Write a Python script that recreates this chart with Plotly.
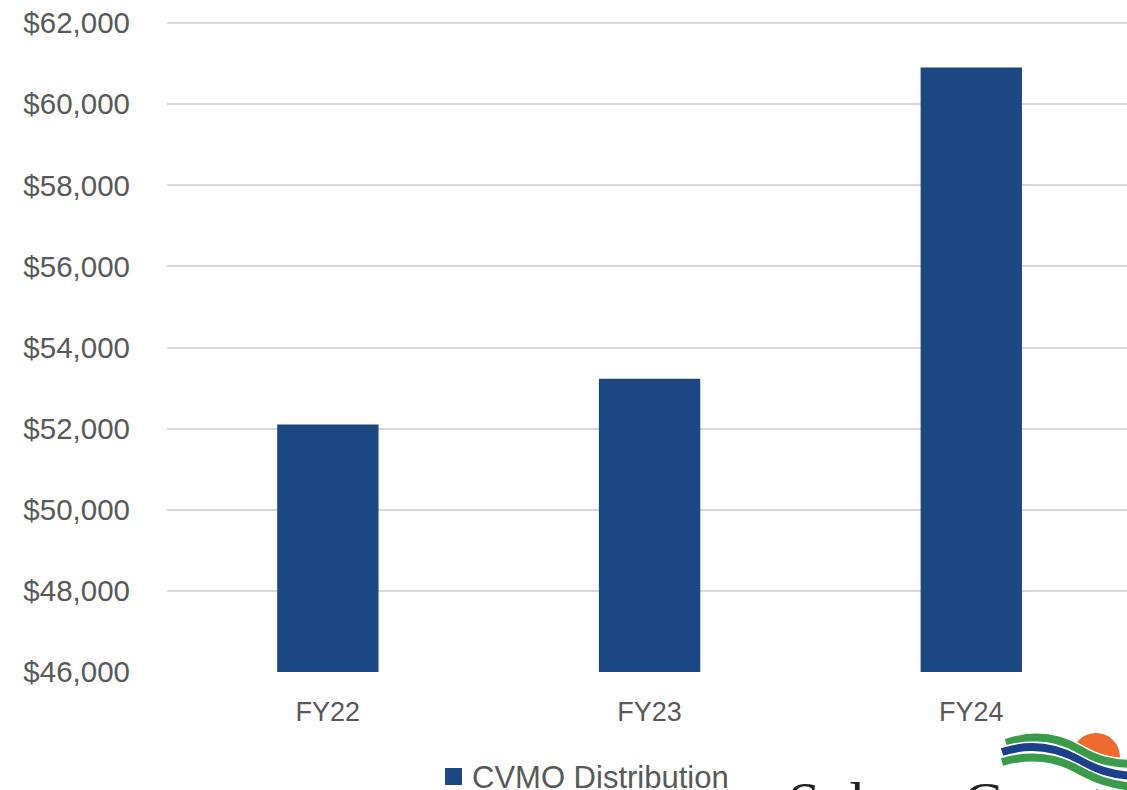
import plotly.graph_objects as go

categories = ["FY22", "FY23", "FY24"]
values = [52100, 53230, 60900]
series_name = "CVMO Distribution"

W, H = 1127, 790
# plot area: y=62000 at 23px, y=46000 at 672px from the top
L, R, T, B = 167, 0, 20, 118
PW, PH = W - L - R, H - T - B
Y_RANGE = [46000, 62000 + 3 * 16000 / 649]

def px2paper(x, y):
    return ((x - L) / PW, (H - B - y) / PH)

def path_from(points):
    parts = []
    for seg in points:
        coords = " ".join("%.5f,%.5f" % px2paper(*p) for p in seg[1:])
        parts.append(seg[0] + " " + coords)
    return " ".join(parts)

BAR_COLOR = "#1B4882"
TEXT_COLOR = "#595959"

fig = go.Figure()
fig.add_trace(go.Bar(
    x=categories, y=values, name=series_name,
    marker=dict(color=BAR_COLOR, line=dict(width=0)),
    width=0.315, showlegend=False,
))

shapes = []
annotations = []

# Legend (drawn manually so it can sit at the very bottom edge)
lx0, ly0 = px2paper(445, 768)
lx1, ly1 = px2paper(462, 785)
shapes.append(dict(type="rect", xref="paper", yref="paper",
                   x0=lx0, y0=ly1, x1=lx1, y1=ly0,
                   fillcolor=BAR_COLOR, line=dict(width=0), layer="above"))
tx, ty = px2paper(470, 777)
annotations.append(dict(text=series_name, xref="paper", yref="paper", x=tx, y=ty,
                        xanchor="left", yanchor="middle", showarrow=False,
                        font=dict(size=31, color=TEXT_COLOR)))

# Logo: sun
cx, cy, r = 1096, 757, 24
x0, y0 = px2paper(cx - r, cy - r)
x1, y1 = px2paper(cx + r, cy + r)
shapes.append(dict(type="circle", xref="paper", yref="paper",
                   x0=x0, y0=y1, x1=x1, y1=y0,
                   fillcolor="#EF6A2F", line=dict(width=0), layer="above"))
waves = [
    ("#3A9B48", [("M", (1006, 743)), ("C", (1035, 733), (1060, 738), (1080, 750)), ("C", (1095, 759), (1110, 764), (1135, 764))]),
    ("#1B3F8A", [("M", (1002, 752)), ("C", (1030, 743), (1055, 747), (1077, 759)), ("C", (1095, 769), (1110, 775), (1135, 776))]),
    ("#3A9B48", [("M", (1002, 762)), ("C", (1030, 754), (1055, 757), (1077, 769)), ("C", (1095, 779), (1110, 785), (1135, 787))]),
]
for col, pts in waves:
    shapes.append(dict(type="path", xref="paper", yref="paper", path=path_from(pts),
                       line=dict(color="white", width=11), layer="above"))
    shapes.append(dict(type="path", xref="paper", yref="paper", path=path_from(pts),
                       line=dict(color=col, width=8), layer="above"))

ax, ay = px2paper(786, 768)
annotations.append(dict(text="Solano County", xref="paper", yref="paper", x=ax, y=ay,
                        xanchor="left", yanchor="top", showarrow=False,
                        font=dict(family="Liberation Serif", size=58, color="#222222")))

fig.update_layout(
    width=W, height=H,
    margin=dict(l=L, r=R, t=T, b=B, pad=0),
    paper_bgcolor="white", plot_bgcolor="white",
    font=dict(family="Liberation Sans, Arial, sans-serif", color=TEXT_COLOR),
    showlegend=False,
    shapes=shapes,
    annotations=annotations,
    xaxis=dict(range=[-0.5, 2.484], showgrid=False, showline=False, zeroline=False,
               tickfont=dict(size=27, color=TEXT_COLOR), ticks="", ticklabelstandoff=21,
               fixedrange=True),
    yaxis=dict(range=Y_RANGE, dtick=2000, tick0=46000, tickprefix="$",
               tickformat=",d", showgrid=True, gridcolor="#D9D9D9", gridwidth=1.5,
               zeroline=False, showline=False, ticks="", ticklabeloverflow="allow",
               tickfont=dict(size=29.5, color=TEXT_COLOR), ticklabelstandoff=36,
               fixedrange=True),
)

fig.write_html(
    "out.html",
    config={"displayModeBar": False},
    post_script=("document.body.style.margin='0';"
                 "document.body.style.overflow='hidden';"
                 "document.documentElement.style.overflow='hidden';"),
)
